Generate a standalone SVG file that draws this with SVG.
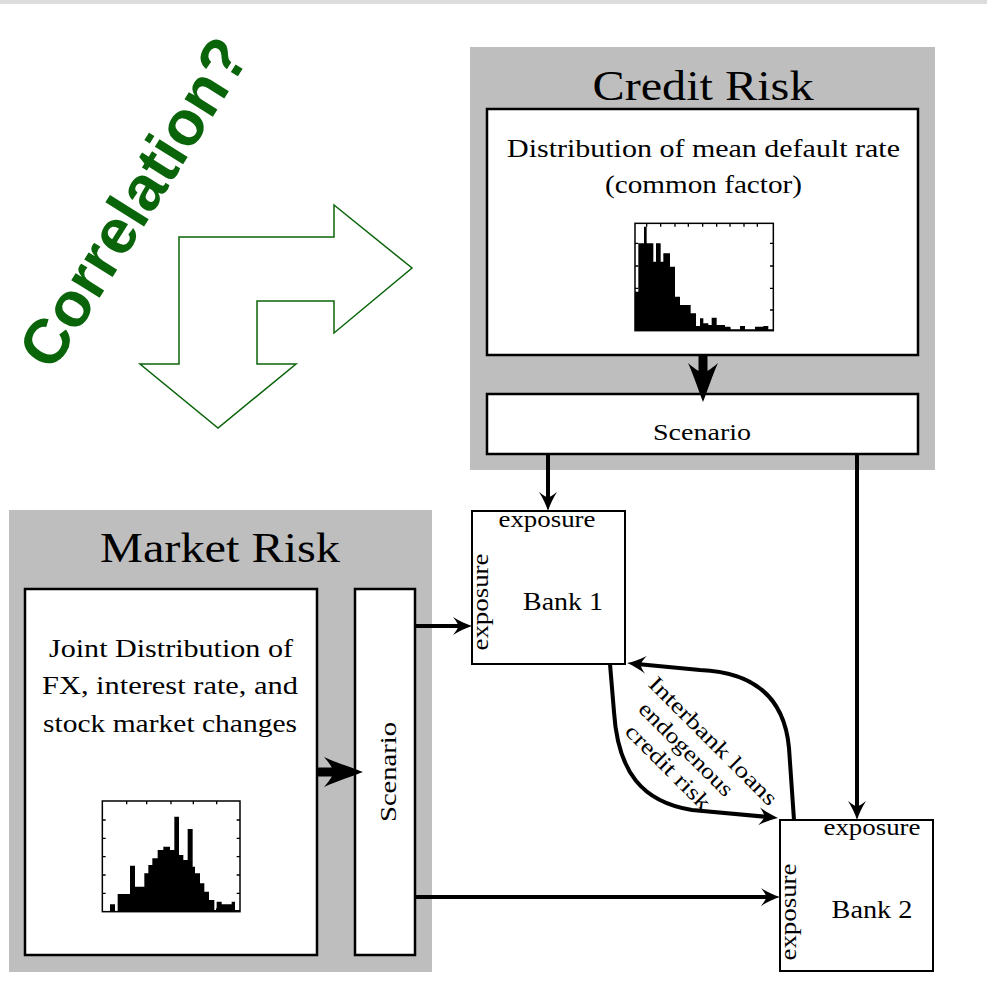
<svg xmlns="http://www.w3.org/2000/svg" width="987" height="1000" viewBox="0 0 987 1000">
<style>
.t{font-family:"Liberation Serif","DejaVu Serif",serif;fill:#000;text-anchor:middle}
.title{font-size:42px}
.lbl{font-size:26px}
.sm{font-size:24px}
.il{font-size:22px}
.panel{fill:#bebebe}
.box{fill:#fff;stroke:#000;stroke-width:2.5}
.bank{fill:#fff;stroke:#000;stroke-width:2}
.hbox{fill:#fff;stroke:#000;stroke-width:4.5}
.tick{stroke:#000;stroke-width:4}
.thin{fill:none;stroke:#000;stroke-width:4}
.thick{fill:none;stroke:#000;stroke-width:9}
</style>
<defs>
<marker id="ah" viewBox="-12 -12 24 24" refX="0" refY="0" markerWidth="24" markerHeight="24" markerUnits="userSpaceOnUse" orient="auto">
<path d="M10,0 C4,-2 -3,-5 -9,-9 C-5,-4 -4,-2 -4,0 C-4,2 -5,4 -9,9 C-3,5 4,2 10,0 Z" fill="#000"/>
</marker>
<marker id="ahb" viewBox="-24 -18 44 36" refX="0" refY="0" markerWidth="44" markerHeight="36" markerUnits="userSpaceOnUse" orient="auto">
<path d="M18,0 C8,-4 -8,-9 -21,-15 C-14,-7 -12,-3 -12,0 C-12,3 -14,7 -21,15 C-8,9 8,4 18,0 Z" fill="#000"/>
</marker>
</defs>
<rect x="0" y="0" width="987" height="1000" fill="#fff"/>
<rect x="0" y="0" width="987" height="4" fill="#dcdcdc"/>

<g id="correlation">
<text x="152" y="214" transform="rotate(-58 152 214)" style="font-family:'Liberation Sans',Arial,sans-serif;font-weight:bold;font-size:63px;fill:#0a640a;text-anchor:middle">Correlation?</text>
<polygon points="140,364 179,364 179,237 334,237 334,205 412,268 334,333 334,301 257,301 257,364 296,364 218,428" fill="#fff" stroke="#0a640a" stroke-width="1.5"/>
</g>

<g id="credit-risk">
<rect class="panel" x="470" y="47" width="465" height="423"/>
<text class="t title" x="703" y="100" textLength="221" lengthAdjust="spacingAndGlyphs">Credit Risk</text>
</g>
<g id="credit-dist">
<rect class="box" x="487" y="109" width="431" height="246"/>
<text class="t lbl" x="703.5" y="157" textLength="393" lengthAdjust="spacingAndGlyphs">Distribution of mean default rate</text>
<text class="t lbl" x="703.5" y="193" textLength="197" lengthAdjust="spacingAndGlyphs">(common factor)</text>
<g transform="translate(620,210) scale(0.33333)">
<rect class="hbox" x="45" y="40" width="415" height="322"/>
<path d="M45,362 V245 H55 V100 H72 V50 H80 V100 H100 V155 H108 V100 H122 V155 H130 V130 H150 V170 H165 V260 H180 V285 H212 V310 H228 V348 H240 V325 H250 V340 H265 V345 H275 V323 H290 V345 H315 V350 H330 V358 H360 V348 H375 V358 H405 V350 H430 V348 H445 V358 H460 V362 Z" fill="#000"/>
<path class="tick" d="M80,40 v10 M122,40 v10 M165,40 v10 M205,40 v10 M248,40 v10 M290,40 v10 M330,40 v10 M372,40 v10 M412,40 v10 M80,362 v-10 M122,362 v-10 M165,362 v-10 M205,362 v-10 M248,362 v-10 M290,362 v-10 M330,362 v-10 M372,362 v-10 M412,362 v-10 M45,100 h10 M45,168 h10 M45,235 h10 M45,300 h10 M460,100 h-10 M460,168 h-10 M460,235 h-10 M460,300 h-10"/>
</g>
</g>
<g id="credit-scenario">
<rect class="box" x="487" y="394" width="431" height="60"/>
<text class="t sm" x="702" y="440" textLength="98" lengthAdjust="spacingAndGlyphs">Scenario</text>
</g>

<g id="market-risk">
<rect class="panel" x="9" y="510" width="423" height="462"/>
<text class="t title" x="220" y="562" textLength="240" lengthAdjust="spacingAndGlyphs">Market Risk</text>
</g>
<g id="market-dist">
<rect class="box" x="25" y="589" width="292" height="366"/>
<text class="t lbl" x="171" y="657" textLength="244" lengthAdjust="spacingAndGlyphs">Joint Distribution of</text>
<text class="t lbl" x="170" y="694" textLength="256" lengthAdjust="spacingAndGlyphs">FX, interest rate, and</text>
<text class="t lbl" x="170" y="732" textLength="254" lengthAdjust="spacingAndGlyphs">stock market changes</text>
<g transform="translate(95,795) scale(0.33333)">
<rect class="hbox" x="22" y="18" width="413" height="332"/>
<path d="M22,350 H45 V328 H60 V350 H68 V297 H105 V212 H120 V275 H148 V235 H160 V210 H172 V190 H188 V165 H205 V155 H225 V165 H238 V65 H252 V180 H265 V195 H278 V102 H293 V215 H300 V235 H315 V265 H328 V290 H342 V315 H358 V345 H365 V320 H380 V328 H410 V320 H420 V345 H435 V350 Z" fill="#000"/>
<path class="tick" d="M95,18 v10 M155,18 v10 M228,18 v10 M295,18 v10 M365,18 v10 M95,350 v-10 M155,350 v-10 M228,350 v-10 M295,350 v-10 M365,350 v-10 M22,75 h10 M22,130 h10 M22,185 h10 M22,240 h10 M22,295 h10 M435,75 h-10 M435,130 h-10 M435,185 h-10 M435,240 h-10 M435,295 h-10"/>
</g>
</g>
<g id="market-scenario">
<rect class="box" x="355" y="589" width="60" height="366"/>
<text class="t sm" transform="translate(396,772) rotate(-90)" x="0" y="0" textLength="100" lengthAdjust="spacingAndGlyphs">Scenario</text>
</g>

<g id="bank1">
<rect class="bank" x="472" y="511" width="153" height="153"/>
<text class="t sm" x="547" y="527" textLength="97" lengthAdjust="spacingAndGlyphs">exposure</text>
<text class="t sm" transform="translate(488,602) rotate(-90)" x="0" y="0" textLength="97" lengthAdjust="spacingAndGlyphs">exposure</text>
<text class="t lbl" x="563" y="610" textLength="80" lengthAdjust="spacingAndGlyphs">Bank 1</text>
</g>
<g id="bank2">
<rect class="bank" x="780" y="820" width="153" height="151"/>
<text class="t sm" x="872" y="835" textLength="97" lengthAdjust="spacingAndGlyphs">exposure</text>
<text class="t sm" transform="translate(796,912) rotate(-90)" x="0" y="0" textLength="97" lengthAdjust="spacingAndGlyphs">exposure</text>
<text class="t lbl" x="872" y="918" textLength="81" lengthAdjust="spacingAndGlyphs">Bank 2</text>
</g>

<g id="connectors">
<line class="thick" x1="703" y1="355" x2="703" y2="384" marker-end="url(#ahb)"/>
<line class="thick" x1="317" y1="772" x2="345" y2="772" marker-end="url(#ahb)"/>
<line class="thin" x1="548" y1="454" x2="548" y2="501" marker-end="url(#ah)"/>
<line class="thin" x1="857" y1="454" x2="857" y2="810" marker-end="url(#ah)"/>
<line class="thin" x1="415" y1="626" x2="462" y2="626" marker-end="url(#ah)"/>
<line class="thin" x1="415" y1="897" x2="770" y2="897" marker-end="url(#ah)"/>
<path class="thin" d="M610,664 L614,712 C618,772 642,802 692,810 L768,817" marker-end="url(#ah)"/>
<path class="thin" d="M794,820 L789,748 C784,692 748,672 700,670 L637,664" marker-end="url(#ah)"/>
<g id="interbank-label">
<text class="t il" transform="translate(708,746) rotate(45)" x="0" y="0" textLength="172" lengthAdjust="spacingAndGlyphs">Interbank loans</text>
<text class="t il" transform="translate(681,754) rotate(45)" x="0" y="0" textLength="124" lengthAdjust="spacingAndGlyphs">endogenous</text>
<text class="t il" transform="translate(663,772) rotate(45)" x="0" y="0" textLength="111" lengthAdjust="spacingAndGlyphs">credit risk</text>
</g>
</g>
</svg>
